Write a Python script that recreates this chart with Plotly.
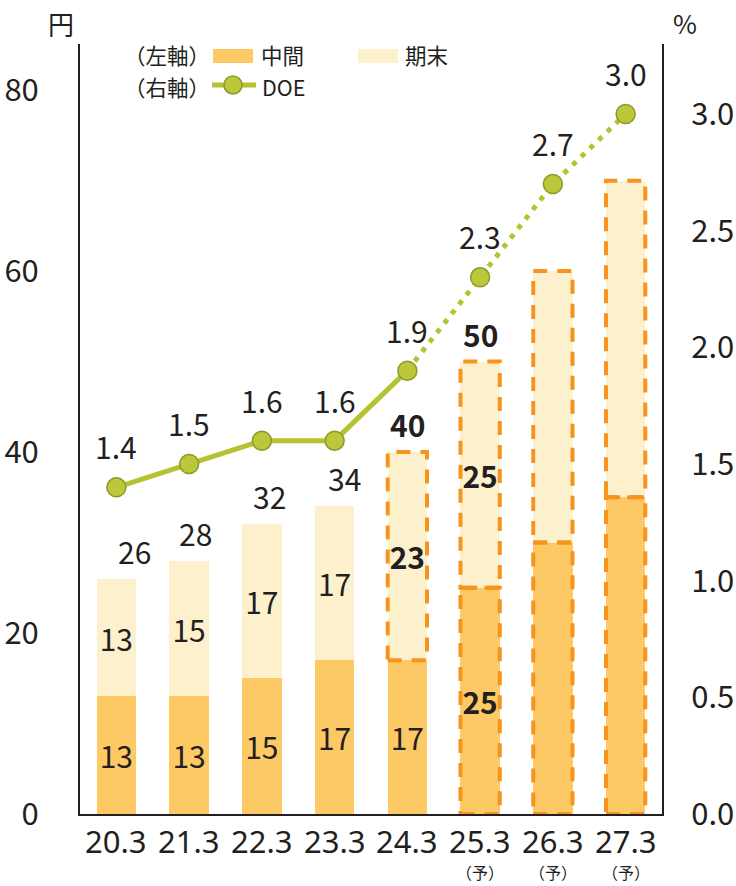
import plotly.graph_objects as go

categories = ["20.3", "21.3", "22.3", "23.3", "24.3", "25.3", "26.3", "27.3"]
forecast = [False, False, False, False, False, True, True, True]
interim = [13, 13, 15, 17, 17, 25, 30, 35]
year_end = [13, 15, 17, 17, 23, 25, 30, 35]
doe = [1.4, 1.5, 1.6, 1.6, 1.9, 2.3, 2.7, 3.0]
show_label = [True, True, True, True, True, True, False, False]
bold_mid = [False, False, False, False, False, True, False, False]
bold_end = [False, False, False, False, True, True, False, False]
outline_mid = [False, False, False, False, False, True, True, True]
outline_end = [False, False, False, False, True, True, True, True]
n_actual_line = 5  # solid line through 24.3, dotted afterwards

C_MID = "#FDC964"
C_END = "#FCF1CC"
C_DASH = "#F7941D"
C_LINE = "#B5C330"
C_MARK = "#BCC83A"
C_MARK_EDGE = "#8A9A2B"
TXT = "#231F20"
FONT = "Noto Sans CJK JP"
NFONT = "Noto Sans"

xi = list(range(len(categories)))
total_dx = [18, 6, 8, 10, 0, 0, 0, 0]  # horizontal nudges of total labels (px)


def lbl(v, show, bold):
    if not show:
        return ""
    return f"<b>{v}</b>" if bold else str(v)


fig = go.Figure()
BW = 0.54
fig.add_trace(go.Bar(
    x=xi, y=interim, width=BW, marker=dict(color=C_MID, line=dict(width=0)),
    text=[lbl(v, s, b) for v, s, b in zip(interim, show_label, bold_mid)],
    textposition="inside", insidetextanchor="middle", constraintext="none",
    textfont=dict(family=FONT, size=30, color=TXT), showlegend=False, hoverinfo="skip"))
fig.add_trace(go.Bar(
    x=xi, y=year_end, width=BW, marker=dict(color=C_END, line=dict(width=0)),
    text=[lbl(v, s, b) for v, s, b in zip(year_end, show_label, bold_end)],
    textposition="inside", insidetextanchor="middle", constraintext="none",
    textfont=dict(family=FONT, size=30, color=TXT), showlegend=False, hoverinfo="skip"))

# DOE lines
fig.add_trace(go.Scatter(
    x=xi[:n_actual_line], y=doe[:n_actual_line], yaxis="y2", mode="lines",
    line=dict(color=C_LINE, width=5), showlegend=False, hoverinfo="skip"))
fig.add_trace(go.Scatter(
    x=xi[n_actual_line - 1:], y=doe[n_actual_line - 1:], yaxis="y2", mode="lines",
    line=dict(color=C_LINE, width=5, dash="5px,7px"), showlegend=False, hoverinfo="skip"))
fig.add_trace(go.Scatter(
    x=xi, y=doe, yaxis="y2", mode="markers",
    marker=dict(size=19, color=C_MARK, line=dict(color=C_MARK_EDGE, width=1.5)),
    showlegend=False, hoverinfo="skip"))

W, H = 736, 886
ML, MR, MT, MB = 80, 74, 44, 72
PW, PH = W - ML - MR, H - MT - MB


def px(x):
    return (x - ML) / PW


def py(y):
    return 1 - (y - MT) / PH


shapes = []
annotations = []
for i in xi:
    total = interim[i] + year_end[i]
    if outline_mid[i]:
        shapes.append(dict(type="rect", xref="x", yref="y", x0=i - BW / 2, x1=i + BW / 2,
                           y0=0, y1=interim[i], line=dict(color=C_DASH, width=4, dash="14px,10px"),
                           fillcolor="rgba(0,0,0,0)", layer="above"))
    if outline_end[i]:
        shapes.append(dict(type="rect", xref="x", yref="y", x0=i - BW / 2, x1=i + BW / 2,
                           y0=interim[i], y1=total, line=dict(color=C_DASH, width=4, dash="14px,10px"),
                           fillcolor="rgba(0,0,0,0)", layer="above"))
    if show_label[i]:
        t = f"<b>{total}</b>" if bold_end[i] else str(total)
        annotations.append(dict(x=i, y=total, xref="x", yref="y", text=t, showarrow=False,
                                xanchor="center", yanchor="bottom", yshift=4, xshift=total_dx[i],
                                font=dict(family=FONT, size=30, color=TXT)))
    annotations.append(dict(x=i, y=doe[i], xref="x", yref="y2", text=f"{doe[i]:.1f}", showarrow=False,
                            xanchor="center", yanchor="bottom", yshift=17,
                            font=dict(family=FONT, size=30, color=TXT)))
    # category labels
    annotations.append(dict(x=i, y=py(841), xref="x", yref="paper", text=categories[i], showarrow=False,
                            xanchor="center", yanchor="middle", font=dict(family=NFONT, size=31, color=TXT)))
    if forecast[i]:
        annotations.append(dict(x=i, y=py(886), xref="x", yref="paper", text="（予）", showarrow=False,
                                xanchor="center", yanchor="bottom", font=dict(family=FONT, size=16, color=TXT)))

# unit labels
annotations.append(dict(x=px(61), y=py(24), xref="paper", yref="paper", text="円", showarrow=False,
                        xanchor="center", yanchor="middle", font=dict(family=FONT, size=26, color=TXT)))
annotations.append(dict(x=px(685), y=py(23), xref="paper", yref="paper", text="%", showarrow=False,
                        xanchor="center", yanchor="middle", font=dict(family=FONT, size=26, color=TXT)))

LF = dict(family=FONT, size=21.5, color=TXT)
leg_txt = [
    ("（左軸）", 167, 55),
    ("中間", 282, 55),
    ("期末", 426, 55),
    ("（右軸）", 167, 87),
    ("DOE", 283, 87),
]
for t, x, y in leg_txt:
    annotations.append(dict(x=px(x), y=py(y), xref="paper", yref="paper", text=t, showarrow=False,
                            xanchor="center", yanchor="middle", font=LF))
shapes.append(dict(type="rect", xref="paper", yref="paper", x0=px(213), x1=px(253), y0=py(63), y1=py(49),
                   fillcolor=C_MID, line=dict(width=0)))
shapes.append(dict(type="rect", xref="paper", yref="paper", x0=px(358), x1=px(398), y0=py(63), y1=py(49),
                   fillcolor=C_END, line=dict(width=0)))
shapes.append(dict(type="line", xref="paper", yref="paper", x0=px(212), x1=px(256), y0=py(85), y1=py(85),
                   line=dict(color=C_LINE, width=5)))
shapes.append(dict(type="circle", xref="paper", yref="paper", x0=px(224), x1=px(242), y0=py(94), y1=py(76),
                   fillcolor=C_MARK, line=dict(color=C_MARK_EDGE, width=1.5)))

fig.update_layout(
    width=W, height=H, margin=dict(l=ML, r=MR, t=MT, b=MB, pad=0, autoexpand=False),
    barmode="stack", plot_bgcolor="white", paper_bgcolor="white",
    font=dict(family=FONT, size=28, color=TXT),
    xaxis=dict(tickvals=xi, showticklabels=False, range=[-0.5, 7.5], automargin=False,
               showline=True, linecolor="#231F20", linewidth=2, mirror=False,
               ticks="", showgrid=False, zeroline=False),
    yaxis=dict(range=[0, 85.1], tickvals=[0, 20, 40, 60, 80], showline=True, linecolor="#231F20",
               linewidth=2, ticks="", showgrid=False, zeroline=False, ticklabelstandoff=33, automargin=False,
               tickfont=dict(family=FONT, size=31, color=TXT)),
    yaxis2=dict(range=[0, 3.3], overlaying="y", side="right", tickvals=[0, 0.5, 1.0, 1.5, 2.0, 2.5, 3.0],
                tickformat=".1f", showline=True, linecolor="#231F20", linewidth=2, ticks="",
                showgrid=False, zeroline=False, ticklabelstandoff=21, automargin=False,
                tickfont=dict(family=FONT, size=31, color=TXT)),
    shapes=shapes, annotations=annotations, bargap=0.46,
)

fig.write_html("out.html")
